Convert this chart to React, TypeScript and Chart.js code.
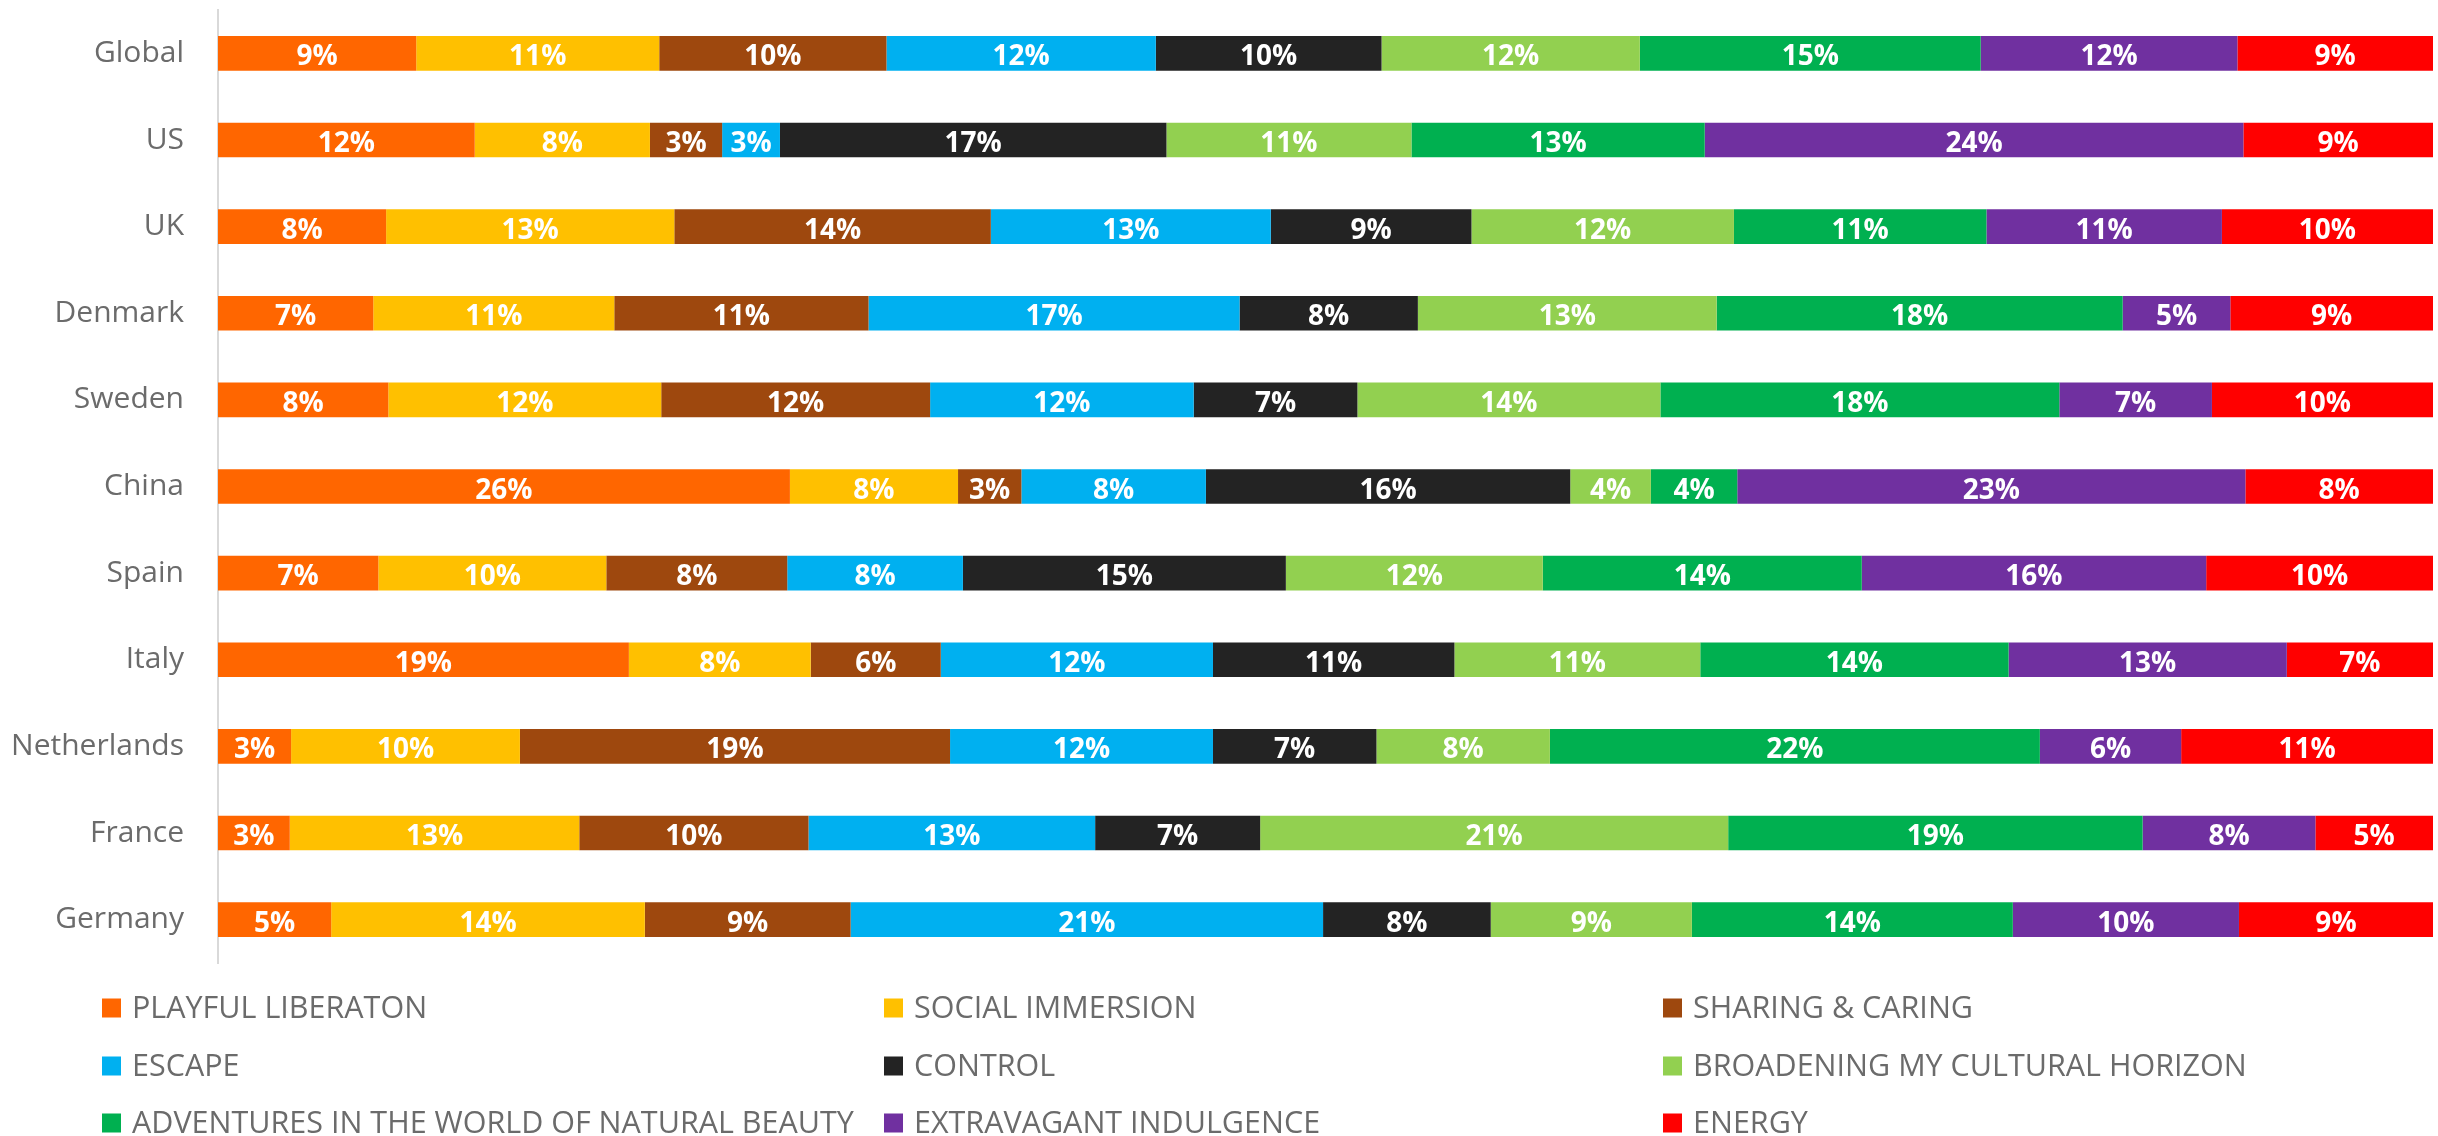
import React, { useEffect, useRef } from 'react';
import { Chart, registerables } from 'chart.js';

Chart.register(...registerables);

const categories = ['Global', 'US', 'UK', 'Denmark', 'Sweden', 'China', 'Spain', 'Italy', 'Netherlands', 'France', 'Germany'];

const seriesNames = [
  'PLAYFUL LIBERATON',
  'SOCIAL IMMERSION',
  'SHARING & CARING',
  'ESCAPE',
  'CONTROL',
  'BROADENING MY CULTURAL HORIZON',
  'ADVENTURES IN THE WORLD OF NATURAL BEAUTY',
  'EXTRAVAGANT INDULGENCE',
  'ENERGY',
];

const seriesColors = ['#FF6600', '#FFC000', '#9E480E', '#00B0F0', '#232323', '#92D050', '#00B050', '#7030A0', '#FF0000'];

const playfulLiberation = [8.95, 11.59, 7.59, 7.01, 7.69, 25.82, 7.24, 18.55, 3.3, 3.24, 5.11];
const socialImmersion = [10.97, 7.91, 13.01, 10.88, 12.32, 7.59, 10.29, 8.21, 10.33, 13.07, 14.16];
const sharingCaring = [10.26, 3.26, 14.29, 11.48, 12.14, 2.86, 8.17, 5.87, 19.42, 10.35, 9.29];
const escape = [12.16, 2.61, 12.64, 16.75, 11.9, 8.33, 7.93, 12.29, 11.87, 12.94, 21.33];
const control = [10.19, 17.45, 9.06, 8.05, 7.39, 16.45, 14.58, 10.9, 7.38, 7.45, 7.57];
const broadening = [11.66, 11.06, 11.85, 13.49, 13.68, 3.64, 11.6, 11.1, 7.83, 21.13, 9.08];
const adventures = [15.39, 13.24, 11.4, 18.33, 18.01, 3.9, 14.4, 13.92, 22.12, 18.71, 14.49];
const extravagant = [11.59, 24.32, 10.63, 4.86, 6.89, 22.94, 15.55, 12.56, 6.38, 7.8, 10.21];
const energy = [8.83, 8.56, 9.53, 9.15, 9.98, 8.47, 10.24, 6.6, 11.37, 5.31, 8.76];

const seriesValues = [playfulLiberation, socialImmersion, sharingCaring, escape, control, broadening, adventures, extravagant, energy];

const FONT = '"Open Sans", "Noto Sans", sans-serif';
const TEXT_GRAY = '#6b6b6b';

const valueLabels = {
  id: 'valueLabels',
  afterDatasetsDraw(chart: any) {
    const ctx = chart.ctx;
    ctx.save();
    ctx.font = `bold 28px ${FONT}`;
    ctx.fillStyle = '#ffffff';
    ctx.textAlign = 'center';
    ctx.textBaseline = 'alphabetic';
    chart.data.datasets.forEach((ds: any, i: number) => {
      const meta = chart.getDatasetMeta(i);
      meta.data.forEach((bar: any, j: number) => {
        const { x, y, base } = bar.getProps(['x', 'y', 'base'], true);
        const v = ds.data[j];
        ctx.fillText(Math.round(v) + '%', (x + base) / 2, y + 12);
      });
    });
    ctx.restore();
  },
};

const gridLegend = {
  id: 'gridLegend',
  afterDraw(chart: any, _args: any, opts: any) {
    const ctx = chart.ctx;
    const cols: number[] = opts.columns;
    const rows: number[] = opts.rows;
    ctx.save();
    ctx.font = `30.5px ${FONT}`;
    ctx.textAlign = 'left';
    ctx.textBaseline = 'middle';
    chart.data.datasets.forEach((ds: any, i: number) => {
      const cx = cols[i % cols.length];
      const cy = rows[Math.floor(i / cols.length)];
      ctx.fillStyle = ds.backgroundColor;
      ctx.fillRect(cx, cy - 9.5, 19, 19);
      ctx.fillStyle = TEXT_GRAY;
      ctx.fillText(ds.label, cx + 30, cy + 1);
    });
    ctx.restore();
  },
};

export default function App() {
  const canvasRef = useRef<HTMLCanvasElement>(null);

  useEffect(() => {
    if (!canvasRef.current) return;
    const chart = new Chart(canvasRef.current, {
      type: 'bar',
      data: {
        labels: categories,
        datasets: seriesNames.map((name, i) => ({
          label: name,
          data: seriesValues[i],
          backgroundColor: seriesColors[i],
          borderWidth: 0,
          categoryPercentage: 1,
          barPercentage: 0.4,
        })),
      },
      options: {
        indexAxis: 'y',
        animation: false,
        responsive: true,
        maintainAspectRatio: false,
        layout: { padding: { top: 10, bottom: 173, right: 5, left: 0 } },
        plugins: {
          legend: { display: false },
          tooltip: { enabled: false },
          gridLegend: { columns: [102, 884, 1663], rows: [1008, 1066, 1123] },
        } as any,
        scales: {
          x: {
            stacked: true,
            min: 0,
            max: 100,
            display: false,
          },
          y: {
            stacked: true,
            grid: { display: false, drawTicks: false },
            border: { display: true, color: '#d9d9d9', width: 2 },
            ticks: {
              padding: 34,
              color: TEXT_GRAY,
              font: { family: FONT, size: 30 },
            },
            afterFit: (s: any) => {
              s.width = 218;
              s.paddingTop = 0;
              s.paddingBottom = 0;
            },
          },
        },
      },
      plugins: [valueLabels, gridLegend],
    });
    return () => chart.destroy();
  }, []);

  return (
    <div style={{ position: 'fixed', left: 0, top: 0, width: 2438, height: 1136, background: '#fff' }}>
      <canvas ref={canvasRef} />
    </div>
  );
}
